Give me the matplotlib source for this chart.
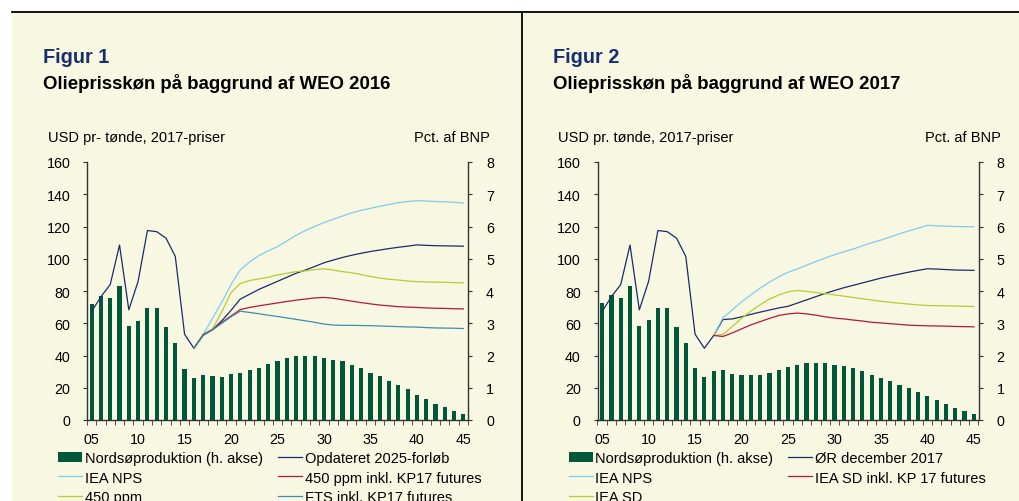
import matplotlib
matplotlib.use("Agg")
import matplotlib.pyplot as plt
from matplotlib.lines import Line2D
from matplotlib.patches import Rectangle

plt.rcParams['font.family'] = ['Liberation Sans', 'DejaVu Sans']

W, H = 1020, 502

# årstal og akse-etiketter
aar = list(range(2005, 2046))
aar_fremskriv_16 = list(range(2016, 2046))
aar_fremskriv_17 = list(range(2017, 2046))
tick_aar = [2005, 2010, 2015, 2020, 2025, 2030, 2035, 2040, 2045]
tick_tekst = ['05', '10', '15', '20', '25', '30', '35', '40', '45']

# historisk oliepris 2005-2016 (USD pr. tønde, 2017-priser)
historik = [67.3, 76.5, 84.0, 108.5, 68.3, 86.0, 117.5, 116.8, 112.8, 101.5, 53.2, 44.5]

# Figur 1 - WEO 2016
opdateret_2025 = historik + [52.5, 56.0, 61.5, 68.0, 75.0, 78.0, 81.0, 83.5, 86.0, 88.5,
                             91.0, 93.0, 95.2, 97.5, 99.2, 100.8, 102.2, 103.4, 104.5, 105.4,
                             106.3, 107.1, 107.8, 108.6, 108.3, 108.1, 108.0, 107.9, 107.8]
iea_nps_16 = [44.5, 53.0, 63.0, 73.0, 84.0, 93.2, 98.0, 102.0, 105.0, 107.5,
              111.0, 114.5, 117.5, 120.0, 122.4, 124.5, 126.5, 128.5, 130.0, 131.3,
              132.5, 133.7, 134.8, 135.5, 136.0, 135.8, 135.5, 135.3, 135.0, 134.6]
ppm450 = [44.5, 53.0, 56.5, 67.0, 79.0, 84.7, 86.5, 87.5, 88.5, 90.0,
          91.0, 92.0, 92.5, 93.2, 93.8, 93.0, 92.0, 91.3, 90.2, 89.0,
          88.0, 87.3, 86.8, 86.2, 85.8, 85.6, 85.5, 85.4, 85.2, 85.0]
ppm450_kp17 = [44.5, 53.0, 56.0, 60.5, 64.5, 68.5, 69.8, 70.8, 71.7, 72.6,
               73.5, 74.3, 75.0, 75.7, 76.0, 75.5, 74.6, 73.7, 72.8, 72.0,
               71.3, 70.8, 70.3, 70.0, 69.8, 69.5, 69.3, 69.2, 69.0, 68.9]
fts_kp17 = [44.5, 52.5, 55.8, 60.0, 64.0, 67.5, 66.7, 65.9, 65.0, 64.2,
            63.3, 62.4, 61.5, 60.6, 59.5, 58.9, 58.7, 58.7, 58.6, 58.5,
            58.3, 58.1, 57.9, 57.7, 57.6, 57.3, 57.1, 57.0, 56.9, 56.7]
nordsoe_16 = [3.60, 3.86, 3.77, 4.14, 2.92, 3.08, 3.47, 3.47, 2.88, 2.39,
              1.59, 1.29, 1.40, 1.36, 1.34, 1.42, 1.47, 1.54, 1.61, 1.74,
              1.83, 1.93, 1.98, 2.00, 1.98, 1.93, 1.87, 1.82, 1.72, 1.61,
              1.46, 1.35, 1.20, 1.10, 0.97, 0.78, 0.64, 0.50, 0.40, 0.27, 0.18]

# Figur 2 - WEO 2017
oer_dec_2017 = historik + [52.4, 62.3, 62.7, 64.0, 65.5, 66.9, 68.2, 69.5, 70.5, 72.5,
                           74.5, 76.5, 78.5, 80.3, 82.0, 83.5, 85.0, 86.5, 88.0, 89.3,
                           90.5, 91.7, 92.8, 93.8, 93.6, 93.3, 93.0, 92.9, 92.8]
iea_nps_17 = [52.4, 63.4, 68.3, 73.2, 77.6, 81.8, 85.5, 88.8, 91.6, 93.7,
              96.0, 98.3, 100.4, 102.5, 104.3, 106.0, 108.0, 110.0, 111.6, 113.5,
              115.5, 117.3, 119.0, 120.7, 120.4, 120.2, 120.0, 119.9, 119.8]
iea_sd = [52.5, 53.0, 58.0, 63.0, 67.5, 71.5, 75.0, 77.5, 79.5, 80.3,
          79.8, 79.0, 78.3, 77.6, 76.8, 76.0, 75.2, 74.4, 73.6, 73.0,
          72.4, 71.9, 71.4, 71.0, 70.9, 70.8, 70.7, 70.5, 70.4]
iea_sd_kp17 = [52.4, 51.8, 54.0, 56.5, 59.0, 61.0, 63.0, 64.8, 65.8, 66.3,
               65.8, 65.0, 64.0, 63.2, 62.7, 62.0, 61.4, 60.6, 60.2, 59.7,
               59.3, 58.8, 58.6, 58.4, 58.3, 58.2, 58.0, 57.9, 57.8]
nordsoe_17 = [3.62, 3.87, 3.78, 4.15, 2.93, 3.09, 3.48, 3.48, 2.88, 2.38,
              1.62, 1.32, 1.52, 1.56, 1.43, 1.39, 1.39, 1.41, 1.45, 1.56,
              1.64, 1.71, 1.76, 1.78, 1.76, 1.71, 1.67, 1.60, 1.52, 1.41,
              1.30, 1.20, 1.09, 1.00, 0.88, 0.75, 0.61, 0.50, 0.38, 0.28, 0.19]

# farver
baggrund = '#F8F7E1'
groen = '#00583A'
navy = '#1C2B6C'
lysblaa = '#80CDEC'
gulgroen = '#B6CC34'
roed = '#B3183F'
petrol = '#3A8EB2'
titelblaa = '#172F6E'
akse = '#333333'


def fx(x):
    return x / W


def fy(y):
    return 1 - y / H


fig = plt.figure(figsize=(W / 100, H / 100), dpi=100, facecolor='white')

# ramme og baggrund
fig.patches.append(Rectangle((fx(12), 0), 1 - fx(12), fy(13.5), transform=fig.transFigure,
                             facecolor=baggrund, edgecolor='none', zorder=-5))
fig.lines.append(Line2D([fx(12), 1], [fy(13.3), fy(13.3)], transform=fig.transFigure,
                        color='black', lw=1.3))
fig.lines.append(Line2D([fx(522.3), fx(522.3)], [0, fy(13.3)], transform=fig.transFigure,
                        color='black', lw=1.3))


def tegn_panel(dx, figur, undertitel, venstre_tekst, soejler, serier, raekkefoelge):
    fig.text(fx(dx + 43), fy(62.7), figur, fontsize=14.3, fontweight='bold',
             color=titelblaa, va='baseline')
    fig.text(fx(dx + 43), fy(89.3), undertitel, fontsize=13.4, fontweight='bold',
             color='black', va='baseline')
    fig.text(fx(dx + 48), fy(141.7), venstre_tekst, fontsize=10.5, va='baseline')
    fig.text(fx(dx + 490), fy(141.7), 'Pct. af BNP', fontsize=10.5, va='baseline', ha='right')

    ax = fig.add_axes([fx(dx + 87), fy(421), fx(381), 258 / H])
    ax2 = ax.twinx()
    b = ax2.bar(aar, soejler, width=0.45, color=groen, label='Nordsøproduktion (h. akse)')
    ax.set_zorder(ax2.get_zorder() + 1)
    ax.patch.set_visible(False)

    linjer = {}
    for navn, x, y, farve in serier:
        linjer[navn], = ax.plot(x, y, color=farve, lw=0.9, label=navn)

    ax.set_xlim(2004.5, 2045.5)
    ax.set_ylim(0, 160)
    ax2.set_ylim(0, 8)
    ax.set_yticks(range(0, 161, 20))
    ax2.set_yticks(range(0, 9))
    ax.set_xticks(tick_aar)
    ax.set_xticklabels(tick_tekst)
    ax.set_xticks([a + 0.5 for a in range(2004, 2046)], minor=True)

    for s in ['top', 'right']:
        ax.spines[s].set_visible(False)
    for s in ['top', 'left', 'bottom']:
        ax2.spines[s].set_visible(False)
    for sp in list(ax.spines.values()) + list(ax2.spines.values()):
        sp.set_color(akse)
        sp.set_linewidth(1.0)

    ax.tick_params(axis='x', which='major', length=0, pad=9, labelsize=10.3)
    ax.tick_params(axis='x', which='minor', length=3.5, direction='out', color=akse)
    ax.tick_params(axis='y', length=3, direction='out', pad=9, labelsize=10.3, color=akse)
    ax2.tick_params(axis='y', length=3, direction='out', pad=10, labelsize=10.3, color=akse)

    handles = [b] + [linjer[n] for n in raekkefoelge]
    labels = ['Nordsøproduktion (h. akse)'] + raekkefoelge
    ax.legend(handles, labels, ncol=2, loc='upper left',
              bbox_to_anchor=(fx(dx + 58), fy(452)), bbox_transform=fig.transFigure,
              frameon=False, fontsize=10.5, handlelength=1.65, handletextpad=0.2,
              columnspacing=1.0, labelspacing=0.38, borderpad=0, borderaxespad=0)


tegn_panel(0, 'Figur 1', 'Olieprisskøn på baggrund af WEO 2016', 'USD pr- tønde, 2017-priser',
           nordsoe_16,
           [('Opdateret 2025-forløb', aar, opdateret_2025, navy),
            ('IEA NPS', aar_fremskriv_16, iea_nps_16, lysblaa),
            ('450 ppm', aar_fremskriv_16, ppm450, gulgroen),
            ('450 ppm inkl. KP17 futures', aar_fremskriv_16, ppm450_kp17, roed),
            ('FTS inkl. KP17 futures', aar_fremskriv_16, fts_kp17, petrol)],
           ['IEA NPS', '450 ppm', 'Opdateret 2025-forløb', '450 ppm inkl. KP17 futures',
            'FTS inkl. KP17 futures'])

tegn_panel(510.5, 'Figur 2', 'Olieprisskøn på baggrund af WEO 2017', 'USD pr. tønde, 2017-priser',
           nordsoe_17,
           [('ØR december 2017', aar, oer_dec_2017, navy),
            ('IEA NPS', aar_fremskriv_17, iea_nps_17, lysblaa),
            ('IEA SD', aar_fremskriv_17, iea_sd, gulgroen),
            ('IEA SD inkl. KP 17 futures', aar_fremskriv_17, iea_sd_kp17, roed)],
           ['IEA NPS', 'IEA SD', 'ØR december 2017', 'IEA SD inkl. KP 17 futures'])

fig.savefig('out.png', dpi=100)
